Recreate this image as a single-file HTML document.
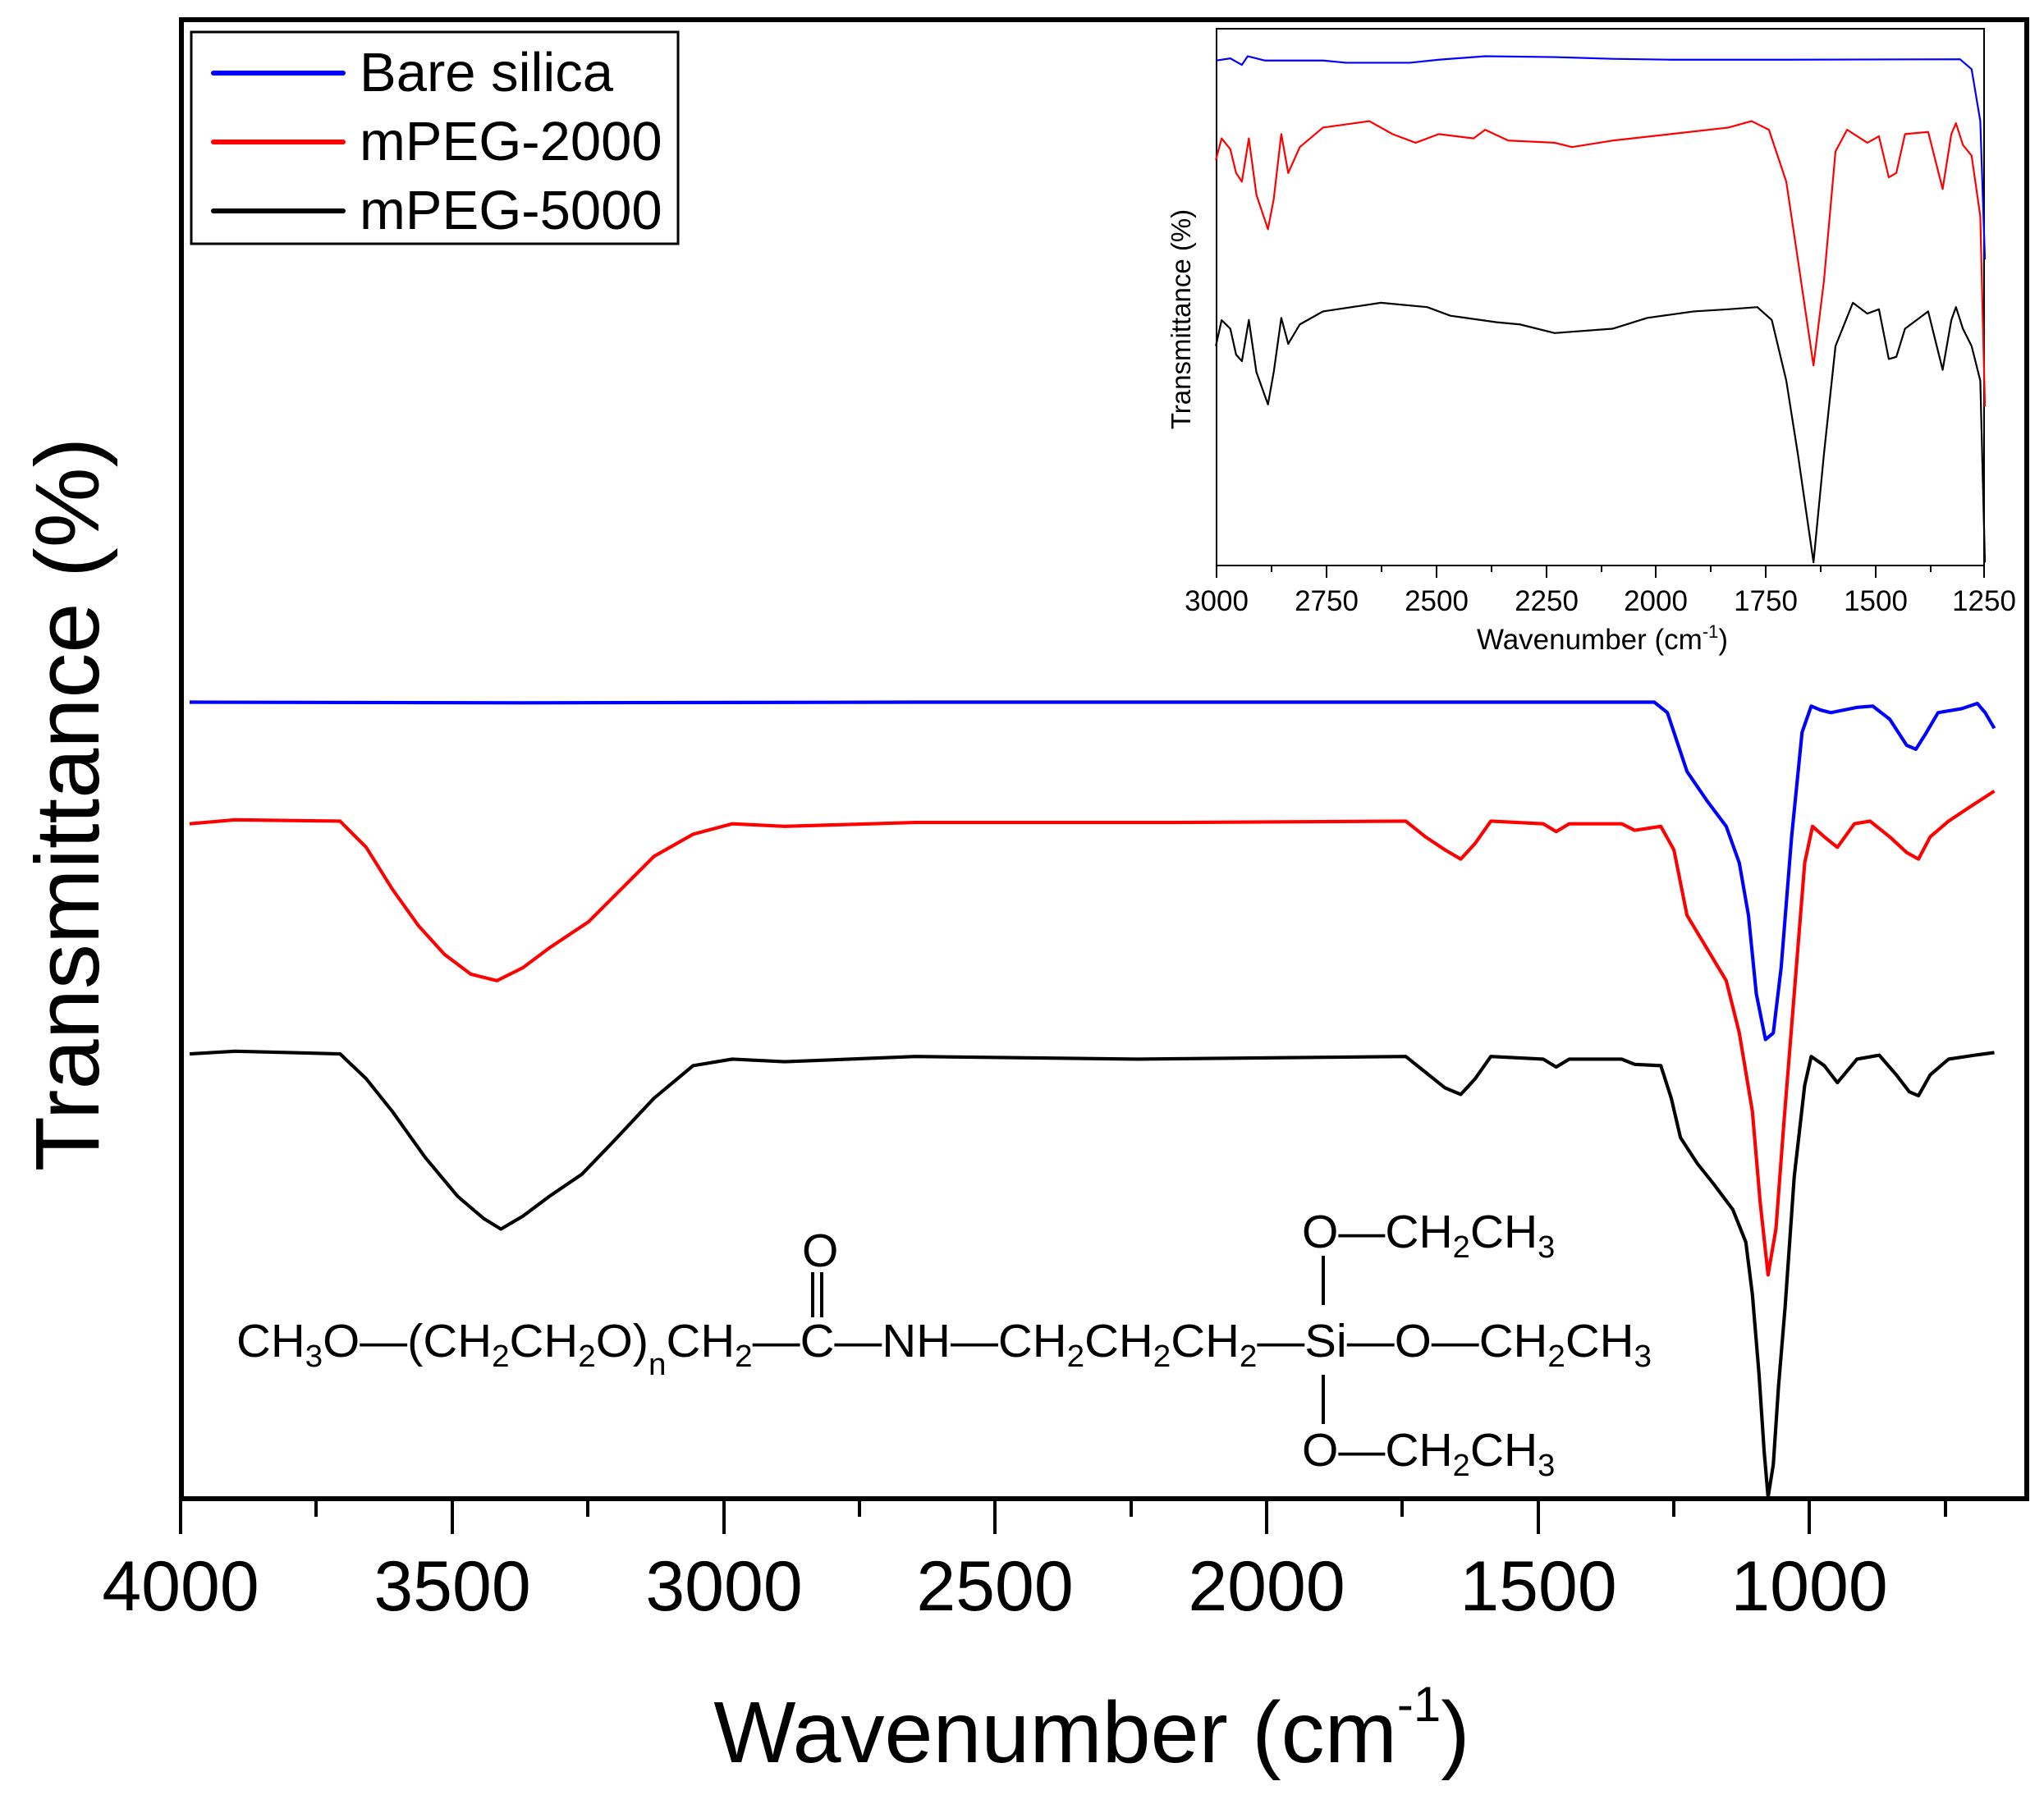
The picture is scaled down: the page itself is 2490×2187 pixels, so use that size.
<!DOCTYPE html>
<html><head><meta charset="utf-8"><style>html,body{margin:0;padding:0;background:#fff}svg{display:block}</style></head>
<body>
<svg width="2490" height="2187" viewBox="0 0 2490 2187" xmlns="http://www.w3.org/2000/svg" font-family="Liberation Sans, Arial, sans-serif">
<rect width="2490" height="2187" fill="#fff"/>
<rect x="221" y="24" width="2248" height="1802" fill="none" stroke="#000" stroke-width="6"/>
<g stroke="#000" stroke-width="4">
<line x1="220" y1="1826" x2="220" y2="1869"/><line x1="385" y1="1826" x2="385" y2="1848"/>
<line x1="551" y1="1826" x2="551" y2="1869"/><line x1="716" y1="1826" x2="716" y2="1848"/>
<line x1="882" y1="1826" x2="882" y2="1869"/><line x1="1047" y1="1826" x2="1047" y2="1848"/>
<line x1="1212" y1="1826" x2="1212" y2="1869"/><line x1="1378" y1="1826" x2="1378" y2="1848"/>
<line x1="1543" y1="1826" x2="1543" y2="1869"/><line x1="1708" y1="1826" x2="1708" y2="1848"/>
<line x1="1874" y1="1826" x2="1874" y2="1869"/><line x1="2039" y1="1826" x2="2039" y2="1848"/>
<line x1="2204" y1="1826" x2="2204" y2="1869"/><line x1="2370" y1="1826" x2="2370" y2="1848"/>
</g>
<g font-size="86" text-anchor="middle" fill="#000">
<text x="220" y="1962">4000</text><text x="551" y="1962">3500</text><text x="882" y="1962">3000</text>
<text x="1212" y="1962">2500</text><text x="1543" y="1962">2000</text><text x="1874" y="1962">1500</text><text x="2204" y="1962">1000</text>
</g>
<text x="1330" y="2147" font-size="106" text-anchor="middle">Wavenumber (cm<tspan font-size="60" dy="-50">-1</tspan><tspan dy="50">)</tspan></text>
<text transform="translate(120,980) rotate(-90)" font-size="110" text-anchor="middle">Transmittance (%)</text>

<rect x="233" y="39" width="593" height="258" fill="#fff" stroke="#000" stroke-width="3"/>
<g stroke-width="6" stroke-linecap="round">
<line x1="260" y1="89" x2="418" y2="89" stroke="#0000ff"/>
<line x1="260" y1="173" x2="418" y2="173" stroke="#ff0000"/>
<line x1="260" y1="257" x2="418" y2="257" stroke="#000"/>
</g>
<g font-size="67"><text x="438" y="111">Bare silica</text><text x="438" y="195">mPEG-2000</text><text x="438" y="279">mPEG-5000</text></g>

<g transform="scale(1.5931)" fill="none" stroke-width="2.6" stroke-linejoin="round">
<polyline stroke="#0000ff" points="145,537 400,537.5 700,537 1000,537 1265,537 1275,545 1290,590 1305,612 1320,632 1330,660 1337,700 1343,760 1350,795 1356,790 1362,740 1370,640 1378,560 1385,540 1392,543 1400,545 1420,541 1432,540 1445,550 1458,570 1465,573 1472,562 1482,545 1500,542 1512,538 1518,545 1525,557"/>
<polyline stroke="#ff0000" points="145,630 180,627 260,628 280,648 300,680 320,708 340,730 360,745 380,750 400,740 420,725 450,705 475,680 500,655 530,638 560,630 600,632 700,629 900,629 1075,628 1090,640 1105,650 1117,657 1128,645 1140,628 1180,630 1190,636 1200,630 1240,630 1250,635 1270,632 1280,650 1290,700 1305,725 1320,750 1330,790 1340,850 1346,920 1352,975 1358,940 1364,860 1372,760 1380,660 1386,632 1395,640 1405,648 1418,630 1430,628 1445,640 1458,652 1467,657 1476,640 1490,628 1505,618 1525,605"/>
<polyline stroke="#000" points="145,806 180,804 260,806 280,825 300,850 325,885 350,915 370,932 383,940 400,930 420,915 445,898 470,872 500,840 530,815 560,810 600,812 700,808 870,810 1075,808 1090,820 1105,832 1117,837 1128,825 1140,808 1180,810 1190,816 1200,810 1240,810 1250,814 1270,815 1278,840 1285,870 1298,890 1310,905 1325,925 1335,950 1340,990 1345,1050 1349,1110 1352,1145 1356,1120 1360,1060 1365,1000 1372,900 1380,830 1385,808 1395,815 1405,828 1420,810 1437,807 1450,822 1460,835 1467,838 1476,822 1490,810 1510,807 1525,805"/>
</g>

<g font-size="57" fill="#000">
<text x="288" y="1653" textLength="1724" lengthAdjust="spacingAndGlyphs">CH<tspan font-size="38" dy="12">3</tspan><tspan dy="-12">O—(CH</tspan><tspan font-size="38" dy="12">2</tspan><tspan dy="-12">CH</tspan><tspan font-size="38" dy="12">2</tspan><tspan dy="-12">O)</tspan><tspan font-size="38" dy="22">n</tspan><tspan dy="-22">CH</tspan><tspan font-size="38" dy="12">2</tspan><tspan dy="-12">—C—NH—CH</tspan><tspan font-size="38" dy="12">2</tspan><tspan dy="-12">CH</tspan><tspan font-size="38" dy="12">2</tspan><tspan dy="-12">CH</tspan><tspan font-size="38" dy="12">2</tspan><tspan dy="-12">—Si—O—CH</tspan><tspan font-size="38" dy="12">2</tspan><tspan dy="-12">CH</tspan><tspan font-size="38" dy="12">3</tspan></text>
<text x="977" y="1543">O</text>
<text x="1586" y="1520">O—CH<tspan font-size="38" dy="12">2</tspan><tspan dy="-12">CH</tspan><tspan font-size="38" dy="12">3</tspan></text>
<text x="1586" y="1786">O—CH<tspan font-size="38" dy="12">2</tspan><tspan dy="-12">CH</tspan><tspan font-size="38" dy="12">3</tspan></text>
</g>
<g stroke="#000" stroke-width="4">
<line x1="990" y1="1550" x2="990" y2="1605"/><line x1="1001" y1="1550" x2="1001" y2="1605"/>
<line x1="1612" y1="1530" x2="1612" y2="1590"/><line x1="1612" y1="1675" x2="1612" y2="1735"/>
</g>

<rect x="1482" y="35" width="935" height="654" fill="#fff" stroke="#000" stroke-width="2"/>
<g stroke="#000" stroke-width="2">
<line x1="1482" y1="689" x2="1482" y2="704"/><line x1="1549" y1="689" x2="1549" y2="697"/>
<line x1="1616" y1="689" x2="1616" y2="704"/><line x1="1683" y1="689" x2="1683" y2="697"/>
<line x1="1750" y1="689" x2="1750" y2="704"/><line x1="1817" y1="689" x2="1817" y2="697"/>
<line x1="1884" y1="689" x2="1884" y2="704"/><line x1="1951" y1="689" x2="1951" y2="697"/>
<line x1="2017" y1="689" x2="2017" y2="704"/><line x1="2084" y1="689" x2="2084" y2="697"/>
<line x1="2151" y1="689" x2="2151" y2="704"/><line x1="2218" y1="689" x2="2218" y2="697"/>
<line x1="2285" y1="689" x2="2285" y2="704"/><line x1="2352" y1="689" x2="2352" y2="697"/>
<line x1="2417" y1="689" x2="2417" y2="704"/>
</g>
<g font-size="35" text-anchor="middle">
<text x="1482" y="744">3000</text><text x="1616" y="744">2750</text><text x="1750" y="744">2500</text><text x="1884" y="744">2250</text><text x="2017" y="744">2000</text><text x="2151" y="744">1750</text><text x="2285" y="744">1500</text><text x="2417" y="744">1250</text>
</g>
<text x="1952" y="791" font-size="35" text-anchor="middle">Wavenumber (cm<tspan font-size="22" dy="-14">-1</tspan><tspan dy="14">)</tspan></text>
<text transform="translate(1450,389) rotate(-90)" font-size="33" text-anchor="middle">Transmittance (%)</text>
<g transform="translate(1400,0) scale(0.7055,0.527)" fill="none" stroke-width="2.2" stroke-linejoin="round">
<polyline vector-effect="non-scaling-stroke" stroke="#0000ff" points="115,140 140,135 160,150 170,130 200,140 300,140 340,145 450,145 500,138 580,130 700,132 800,136 900,138 1100,138 1400,137 1420,160 1435,280 1443,600"/>
<polyline vector-effect="non-scaling-stroke" stroke="#ff0000" points="115,370 125,320 140,345 150,400 160,420 172,320 185,450 205,530 215,460 228,310 240,400 260,340 300,295 380,280 420,310 460,330 500,310 560,320 580,300 620,325 700,330 730,340 800,325 900,310 1000,295 1040,280 1070,300 1100,420 1120,600 1147,845 1165,650 1185,350 1205,300 1240,330 1260,315 1277,410 1290,400 1305,310 1345,305 1370,437 1385,310 1393,285 1405,335 1420,360 1435,500 1443,940"/>
<polyline vector-effect="non-scaling-stroke" stroke="#000" points="115,800 125,740 140,760 150,820 160,835 172,740 185,860 205,935 215,860 228,735 240,795 260,750 300,720 400,700 480,710 520,730 600,745 640,750 700,770 800,760 860,735 940,720 1000,715 1050,710 1075,740 1100,880 1120,1050 1147,1300 1165,1050 1185,800 1215,700 1240,725 1260,715 1277,830 1290,825 1305,760 1345,720 1370,855 1385,740 1393,710 1405,760 1420,800 1435,880 1443,1300"/>
</g>
</svg>
</body></html>
